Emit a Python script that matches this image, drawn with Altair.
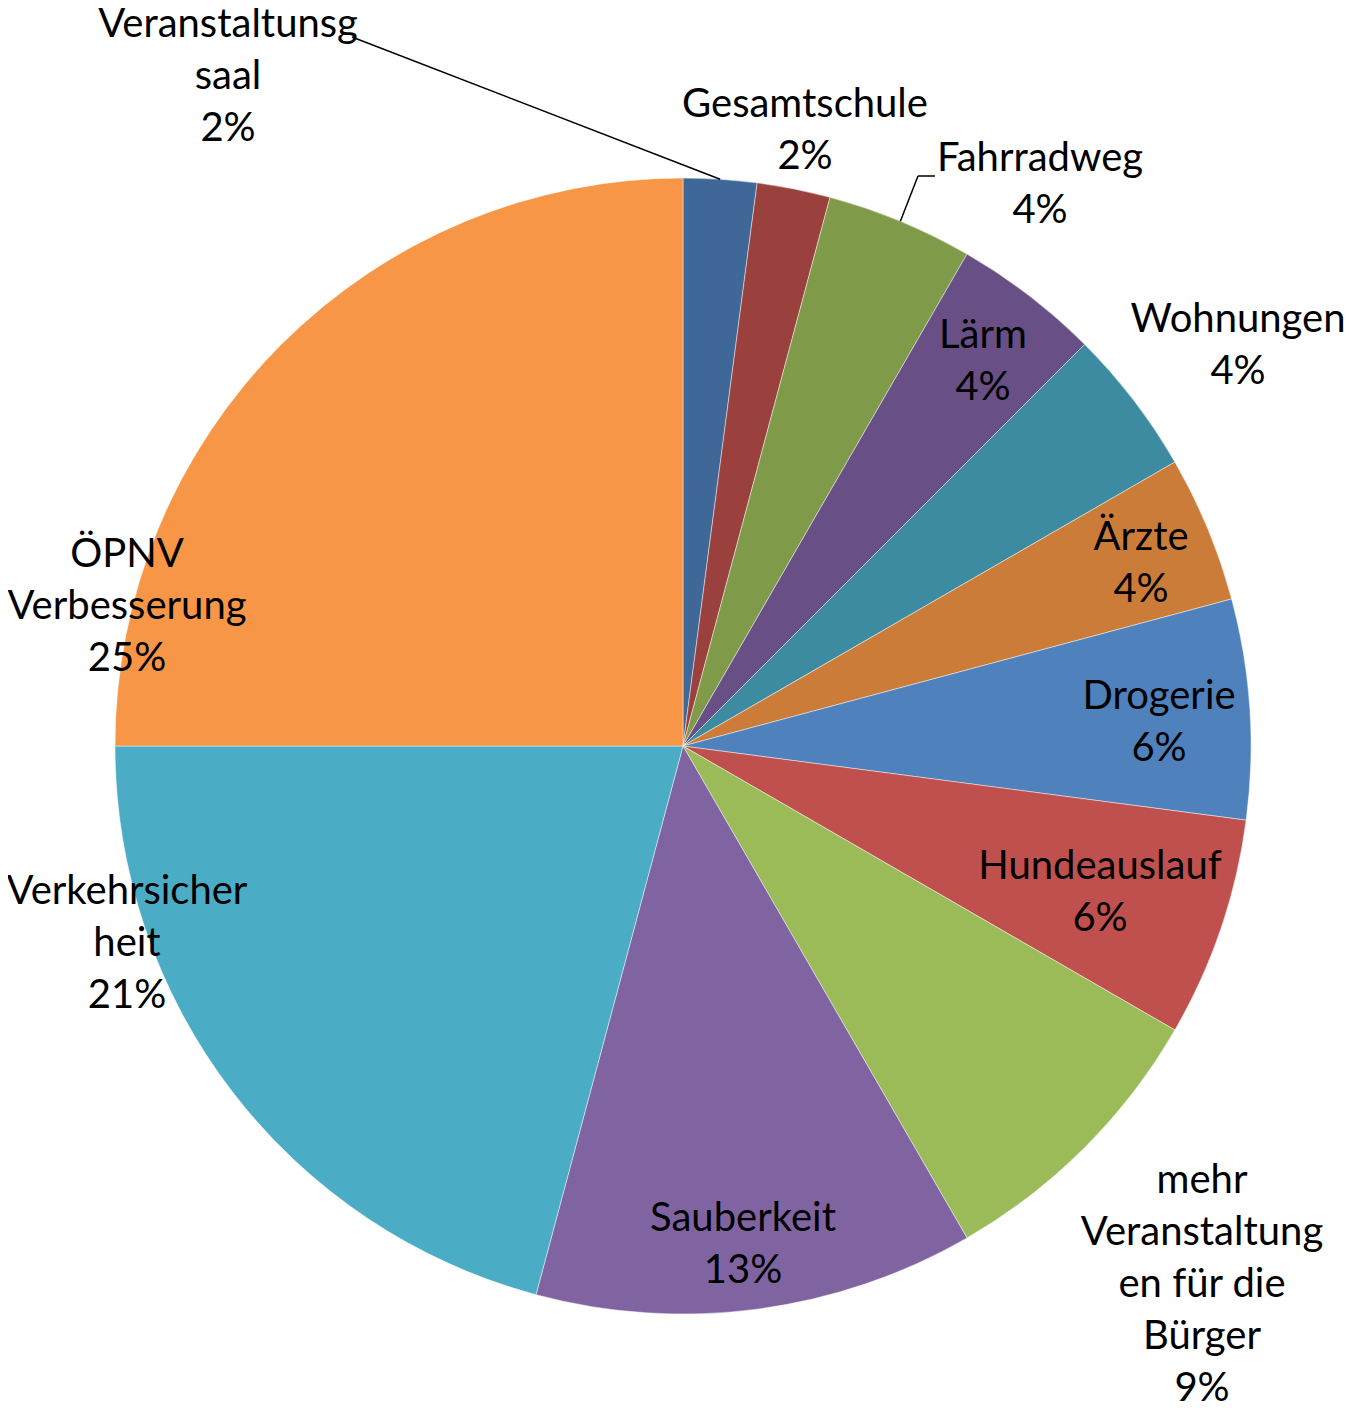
import altair as alt
import pandas as pd
import numpy as np

# ---- data ----
categories = ["Veranstaltunsgsaal", "Gesamtschule", "Fahrradweg", "Lärm", "Wohnungen",
              "Ärzte", "Drogerie", "Hundeauslauf", "mehr Veranstaltungen für die Bürger",
              "Sauberkeit", "Verkehrsicherheit", "ÖPNV Verbesserung"]
values = [1, 1, 2, 2, 2, 2, 3, 3, 4, 6, 10, 12]
pct_labels = ["2%", "2%", "4%", "4%", "4%", "4%", "6%", "6%", "9%", "13%", "21%", "25%"]
label_names = ["Veranstaltunsg\nsaal", "Gesamtschule", "Fahrradweg", "Lärm", "Wohnungen",
               "Ärzte", "Drogerie", "Hundeauslauf", "mehr\nVeranstaltung\nen für die\nBürger",
               "Sauberkeit", "Verkehrsicher\nheit", "ÖPNV\nVerbesserung"]

# ---- styling / layout ----
colors = ["#3F6899", "#9A403D", "#7F9A48", "#684F86", "#3C8BA1", "#CB7C39",
          "#4F81BD", "#C0504D", "#9BBB59", "#8064A2", "#4BACC6", "#F79646"]
CX, CY, R = 675, 738, 568
LINE_H = 52
# label block-centre offsets from the pie centre (Excel "best fit" placement)
label_dx = [-455, 122, 357, 300, 555, 458, 476, 417, 519, 60, -556, -556]
label_dy = [-669, -615, -561, -384, -400, -182, -23, 147, 539, 499, 198, -139]

texts = [n + "\n" + p for n, p in zip(label_names, pct_labels)]
n_lines = [t.count("\n") + 1 for t in texts]

df = pd.DataFrame({
    "idx": list(range(len(categories))),
    "cat": categories,
    "value": values,
    "label": texts,
    "lx": [CX + d for d in label_dx],
    # Vega puts the first line at y, so shift the block up by half its extra height
    "ly": [CY + d - (n - 1) * LINE_H / 2 for d, n in zip(label_dy, n_lines)],
})

# leader lines: start at the slice's mid angle on the rim
vals = np.array(values, dtype=float)
cum = np.cumsum(vals) - vals / 2
mid = cum / vals.sum() * 2 * np.pi
rim_x = CX + R * np.sin(mid)
rim_y = CY - R * np.cos(mid)
leaders = pd.DataFrame({
    "x": [rim_x[0], rim_x[2], CX + 235],
    "y": [rim_y[0], rim_y[2], CY - 570],
    "x2": [CX - 331, CX + 235, CX + 252],
    "y2": [CY - 709, CY - 570, CY - 570],
})

base = alt.Chart(df)

pie = base.mark_arc(radius=R, stroke="#FFFFFF", strokeWidth=1, strokeOpacity=0.45).encode(
    theta=alt.Theta("value:Q", stack=True),
    color=alt.Color("cat:N", scale=alt.Scale(domain=categories, range=colors), legend=None),
    order=alt.Order("idx:Q", sort="ascending"),
    x=alt.value(CX),
    y=alt.value(CY),
)

labels = base.mark_text(font="Lato", fontSize=40, lineBreak="\n", lineHeight=LINE_H,
                        align="center", baseline="middle", color="#000000").encode(
    x=alt.X("lx:Q", scale=None),
    y=alt.Y("ly:Q", scale=None),
    text="label:N",
)

lines = alt.Chart(leaders).mark_rule(color="#000000", strokeWidth=1.5).encode(
    x=alt.X("x:Q", scale=None),
    y=alt.Y("y:Q", scale=None),
    x2="x2:Q",
    y2="y2:Q",
)

chart = alt.layer(pie, lines, labels).properties(
    width=1336, height=1398, autosize=alt.AutoSizeParams(type="none"), padding=0
).configure_view(stroke=None)

chart.save("out.html", embed_options={"renderer": "svg", "actions": False})
